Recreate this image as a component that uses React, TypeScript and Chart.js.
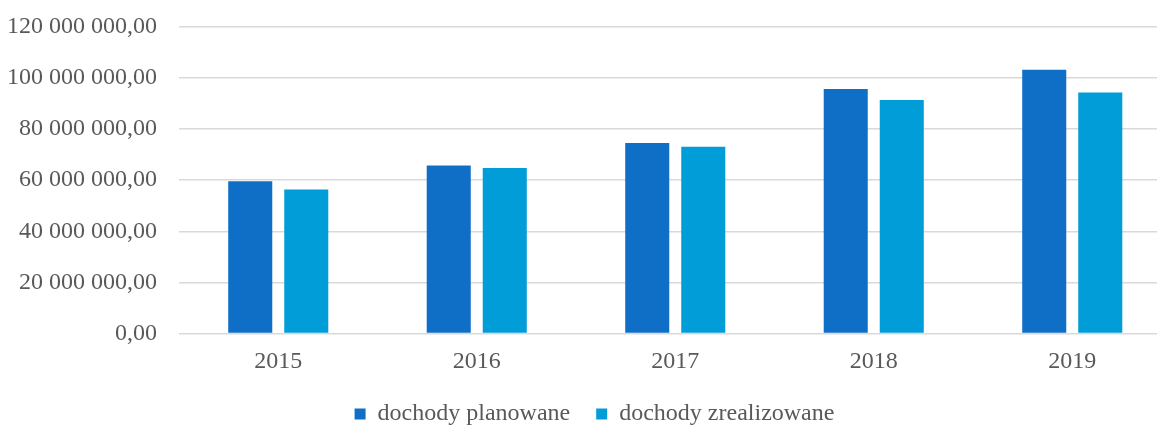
import React, { useEffect, useRef } from 'react';
import { Chart, registerables } from 'chart.js';

Chart.register(...registerables);

const years: string[] = ['2015', '2016', '2017', '2018', '2019'];
const planned: number[] = [59600000, 65800000, 74600000, 95700000, 103300000];
const realized: number[] = [56400000, 64800000, 73100000, 91400000, 94300000];
const seriesNames: string[] = ['dochody planowane', 'dochody zrealizowane'];
const seriesColors: string[] = ['#0F6FC6', '#009DD9'];
const yMax = 120000000;
const yStep = 20000000;

function formatPl(v: number): string {
  const s = Math.round(v).toString().replace(/\B(?=(\d{3})+(?!\d))/g, ' ');
  return s + ',00';
}

const FONT = '"Liberation Serif", "Times New Roman", serif';
const TEXT = '#595959';

export default function App() {
  const ref = useRef<HTMLCanvasElement | null>(null);

  useEffect(() => {
    if (!ref.current) return;
    const chart = new Chart(ref.current, {
      type: 'bar',
      data: {
        labels: years,
        datasets: [
          {
            label: seriesNames[0],
            data: planned,
            backgroundColor: seriesColors[0],
            categoryPercentage: 0.5645,
            barPercentage: 0.786,
          },
          {
            label: seriesNames[1],
            data: realized,
            backgroundColor: seriesColors[1],
            categoryPercentage: 0.5645,
            barPercentage: 0.786,
          },
        ],
      },
      options: {
        responsive: false,
        animation: false,
        layout: { padding: { left: 0, right: 0, top: 27, bottom: 0 } },
        plugins: {
          tooltip: { enabled: false },
          legend: {
            position: 'bottom',
            labels: {
              boxWidth: 11,
              boxHeight: 11,
              padding: 26,
              color: TEXT,
              font: { family: FONT, size: 24 },
            },
          },
        },
        scales: {
          x: {
            grid: { display: false, drawTicks: false },
            border: { display: false },
            ticks: {
              color: TEXT,
              font: { family: FONT, size: 24 },
              padding: 13.8,
            },
            afterFit: (scale: any) => {
              scale.height = 42.6;
            },
          },
          y: {
            min: 0,
            max: yMax,
            grid: { color: '#D9D9D9', lineWidth: 1.5, drawTicks: false },
            border: { display: false },
            ticks: {
              stepSize: yStep,
              color: TEXT,
              font: { family: FONT, size: 24 },
              padding: 22,
              callback: (v: any) => formatPl(Number(v)),
            },
            afterFit: (scale: any) => {
              scale.width = 179;
              scale.paddingTop = 0;
              scale.paddingBottom = 0;
            },
          },
          spacer: {
            type: 'linear',
            position: 'right',
            display: true,
            grid: { display: false, drawTicks: false },
            border: { display: false },
            ticks: { display: false },
            afterFit: (scale: any) => {
              scale.width = 17.5;
              scale.paddingTop = 0;
              scale.paddingBottom = 0;
            },
          },
        },
      },
    });
    return () => chart.destroy();
  }, []);

  return (
    <div
      style={{
        position: 'fixed',
        left: 0,
        top: 0,
        width: 1157,
        height: 425,
        overflow: 'hidden',
        background: '#fff',
      }}
    >
      <canvas ref={ref} width={1189} height={436} style={{ width: 1189, height: 436, display: 'block' }} />
    </div>
  );
}
